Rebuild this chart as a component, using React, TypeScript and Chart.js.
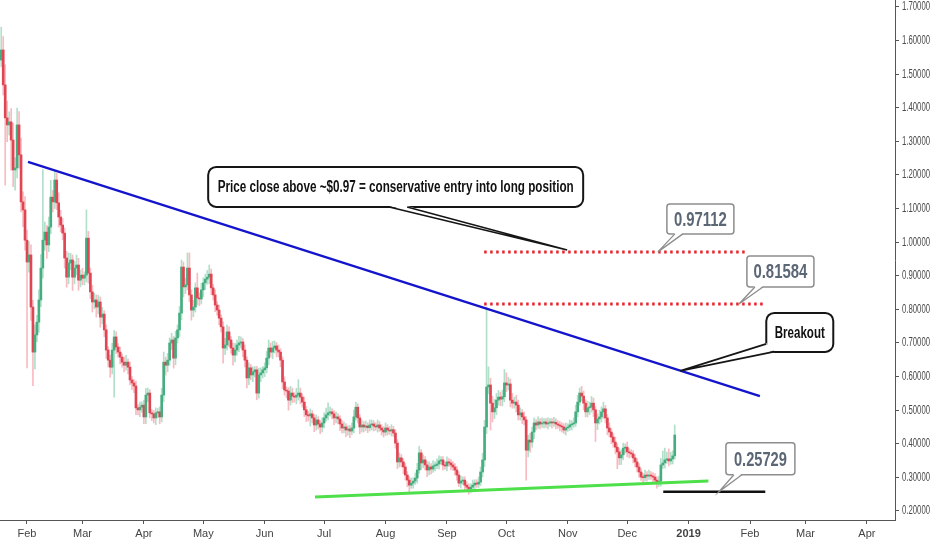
import { useEffect, useRef } from "react";
import { Chart, registerables, type Plugin } from "chart.js";

Chart.register(...registerables);

// day index 0 = 1 Feb 2018, one candle per day
const firstDay = -13;
const firstOpen = 1.542;

const closes: number[] = [
  1.572, 1.468, 1.370, 1.349, 1.358, 1.304, 1.215, 1.221, 1.349, 1.260,
  1.120, 1.096, 1.006, 0.941, 0.962, 0.807, 0.673, 0.724, 0.762, 0.828,
  0.923, 1.006, 1.030, 0.992, 1.045, 1.134, 1.120, 1.185, 1.117, 1.075,
  1.051, 1.027, 0.953, 0.896, 0.938, 0.947, 0.896, 0.923, 0.932, 0.887,
  0.902, 0.893, 0.902, 1.012, 0.908, 0.852, 0.822, 0.828, 0.807, 0.822,
  0.777, 0.786, 0.739, 0.679, 0.649, 0.628, 0.679, 0.718, 0.688, 0.673,
  0.658, 0.643, 0.634, 0.643, 0.628, 0.590, 0.581, 0.572, 0.507, 0.501,
  0.509, 0.515, 0.480, 0.545, 0.551, 0.492, 0.489, 0.477, 0.492, 0.495,
  0.480, 0.545, 0.643, 0.634, 0.649, 0.700, 0.709, 0.655, 0.715, 0.739,
  0.789, 0.926, 0.867, 0.873, 0.923, 0.843, 0.798, 0.807, 0.864, 0.834,
  0.831, 0.858, 0.879, 0.890, 0.896, 0.905, 0.864, 0.843, 0.813, 0.798,
  0.774, 0.748, 0.685, 0.694, 0.733, 0.709, 0.685, 0.664, 0.679, 0.694,
  0.700, 0.703, 0.679, 0.649, 0.596, 0.626, 0.605, 0.614, 0.620, 0.551,
  0.605, 0.611, 0.620, 0.626, 0.655, 0.685, 0.673, 0.685, 0.691, 0.679,
  0.673, 0.649, 0.584, 0.560, 0.557, 0.530, 0.551, 0.542, 0.539, 0.545,
  0.551, 0.539, 0.524, 0.501, 0.486, 0.483, 0.489, 0.477, 0.456, 0.471,
  0.459, 0.450, 0.462, 0.477, 0.486, 0.492, 0.495, 0.489, 0.477, 0.480,
  0.474, 0.459, 0.447, 0.450, 0.441, 0.444, 0.438, 0.447, 0.480, 0.509,
  0.477, 0.450, 0.456, 0.450, 0.453, 0.448, 0.456, 0.459, 0.453, 0.450,
  0.456, 0.447, 0.441, 0.435, 0.447, 0.441, 0.438, 0.442, 0.432, 0.402,
  0.346, 0.358, 0.346, 0.331, 0.307, 0.292, 0.277, 0.283, 0.289, 0.298,
  0.322, 0.373, 0.343, 0.352, 0.337, 0.322, 0.331, 0.325, 0.334, 0.336,
  0.340, 0.349, 0.352, 0.337, 0.334, 0.346, 0.343, 0.337, 0.331, 0.322,
  0.307, 0.283, 0.289, 0.292, 0.277, 0.271, 0.265, 0.271, 0.277, 0.283,
  0.280, 0.286, 0.316, 0.352, 0.450, 0.569, 0.575, 0.521, 0.495, 0.507,
  0.530, 0.539, 0.533, 0.540, 0.581, 0.575, 0.578, 0.530, 0.521, 0.524,
  0.515, 0.486, 0.492, 0.480, 0.471, 0.381, 0.411, 0.405, 0.435, 0.462,
  0.456, 0.465, 0.459, 0.462, 0.465, 0.459, 0.462, 0.465, 0.462, 0.464,
  0.459, 0.456, 0.453, 0.450, 0.441, 0.447, 0.450, 0.456, 0.459, 0.462,
  0.495, 0.524, 0.551, 0.542, 0.521, 0.495, 0.507, 0.509, 0.521, 0.501,
  0.462, 0.474, 0.480, 0.495, 0.504, 0.477, 0.447, 0.435, 0.420, 0.405,
  0.390, 0.376, 0.358, 0.367, 0.387, 0.390, 0.376, 0.373, 0.370, 0.358,
  0.346, 0.331, 0.316, 0.301, 0.299, 0.307, 0.304, 0.307, 0.304, 0.301,
  0.292, 0.283, 0.289, 0.337, 0.343, 0.352, 0.355, 0.349, 0.355, 0.364,
  0.426,
];

// wick length above the body / below the body
const wickUp: number[] = [
  0.068, 0.040, 0.060, 0.050, 0.030, 0.040, 0.050, 0.030, 0.050, 0.040,
  0.050, 0.030, 0.040, 0.030, 0.040, 0.030, 0.020, 0.030, 0.020, 0.030,
  0.040, 0.210, 0.030, 0.020, 0.030, 0.050, 0.020, 0.025, 0.020, 0.030,
  0.020, 0.020, 0.015, 0.020, 0.030, 0.020, 0.015, 0.020, 0.030, 0.020,
  0.015, 0.020, 0.010, 0.084, 0.020, 0.015, 0.020, 0.020, 0.015, 0.020,
  0.015, 0.020, 0.010, 0.015, 0.010, 0.015, 0.020, 0.020, 0.015, 0.010,
  0.015, 0.010, 0.015, 0.020, 0.010, 0.015, 0.010, 0.010, 0.015, 0.010,
  0.015, 0.010, 0.015, 0.020, 0.015, 0.010, 0.010, 0.010, 0.015, 0.010,
  0.015, 0.020, 0.030, 0.015, 0.020, 0.015, 0.020, 0.010, 0.020, 0.015,
  0.020, 0.021, 0.015, 0.020, 0.045, 0.045, 0.015, 0.020, 0.015, 0.044,
  0.015, 0.020, 0.015, 0.015, 0.020, 0.027, 0.015, 0.010, 0.015, 0.010,
  0.015, 0.010, 0.015, 0.020, 0.020, 0.015, 0.010, 0.015, 0.020, 0.015,
  0.020, 0.015, 0.010, 0.015, 0.010, 0.015, 0.010, 0.015, 0.010, 0.010,
  0.020, 0.015, 0.010, 0.015, 0.020, 0.024, 0.015, 0.020, 0.015, 0.010,
  0.015, 0.010, 0.010, 0.015, 0.010, 0.010, 0.020, 0.015, 0.010, 0.020,
  0.040, 0.015, 0.010, 0.015, 0.010, 0.010, 0.015, 0.010, 0.010, 0.015,
  0.010, 0.010, 0.015, 0.015, 0.020, 0.030, 0.015, 0.010, 0.010, 0.015,
  0.010, 0.010, 0.010, 0.015, 0.010, 0.010, 0.010, 0.015, 0.020, 0.015,
  0.010, 0.010, 0.015, 0.010, 0.015, 0.010, 0.015, 0.012, 0.010, 0.010,
  0.015, 0.010, 0.010, 0.010, 0.015, 0.010, 0.010, 0.015, 0.010, 0.010,
  0.010, 0.015, 0.010, 0.010, 0.010, 0.010, 0.010, 0.015, 0.010, 0.015,
  0.020, 0.020, 0.010, 0.015, 0.010, 0.010, 0.015, 0.010, 0.015, 0.010,
  0.015, 0.015, 0.010, 0.010, 0.010, 0.015, 0.010, 0.010, 0.010, 0.010,
  0.010, 0.010, 0.015, 0.010, 0.010, 0.010, 0.010, 0.010, 0.015, 0.010,
  0.010, 0.015, 0.015, 0.020, 0.020, 0.238, 0.054, 0.020, 0.020, 0.025,
  0.020, 0.020, 0.015, 0.020, 0.040, 0.030, 0.020, 0.015, 0.020, 0.015,
  0.020, 0.015, 0.015, 0.010, 0.015, 0.010, 0.015, 0.020, 0.015, 0.015,
  0.010, 0.015, 0.010, 0.015, 0.010, 0.010, 0.015, 0.010, 0.010, 0.015,
  0.010, 0.010, 0.010, 0.010, 0.010, 0.015, 0.010, 0.015, 0.010, 0.015,
  0.020, 0.020, 0.015, 0.020, 0.015, 0.010, 0.020, 0.015, 0.020, 0.015,
  0.010, 0.015, 0.020, 0.015, 0.020, 0.010, 0.010, 0.015, 0.010, 0.010,
  0.015, 0.010, 0.010, 0.015, 0.015, 0.010, 0.015, 0.010, 0.010, 0.010,
  0.010, 0.010, 0.010, 0.010, 0.010, 0.015, 0.010, 0.015, 0.010, 0.010,
  0.010, 0.010, 0.015, 0.020, 0.035, 0.035, 0.020, 0.030, 0.020, 0.015,
  0.030,
];

const wickDown: number[] = [
  0.020, 0.030, 0.200, 0.050, 0.030, 0.090, 0.050, 0.060, 0.030, 0.040,
  0.030, 0.050, 0.030, 0.315, 0.030, 0.040, 0.100, 0.050, 0.020, 0.030,
  0.020, 0.030, 0.030, 0.040, 0.020, 0.020, 0.030, 0.020, 0.020, 0.030,
  0.020, 0.020, 0.030, 0.030, 0.020, 0.020, 0.040, 0.020, 0.020, 0.030,
  0.020, 0.020, 0.020, 0.020, 0.030, 0.020, 0.030, 0.020, 0.030, 0.020,
  0.030, 0.020, 0.020, 0.025, 0.020, 0.030, 0.020, 0.140, 0.020, 0.015,
  0.020, 0.015, 0.020, 0.015, 0.020, 0.015, 0.020, 0.020, 0.020, 0.015,
  0.020, 0.015, 0.020, 0.020, 0.020, 0.015, 0.020, 0.015, 0.020, 0.015,
  0.020, 0.015, 0.020, 0.030, 0.020, 0.015, 0.020, 0.030, 0.020, 0.015,
  0.020, 0.020, 0.030, 0.020, 0.015, 0.020, 0.030, 0.020, 0.015, 0.020,
  0.020, 0.015, 0.020, 0.020, 0.015, 0.020, 0.020, 0.015, 0.020, 0.015,
  0.020, 0.015, 0.045, 0.020, 0.015, 0.020, 0.015, 0.030, 0.020, 0.015,
  0.020, 0.015, 0.020, 0.020, 0.030, 0.020, 0.015, 0.020, 0.015, 0.020,
  0.015, 0.020, 0.015, 0.020, 0.015, 0.020, 0.015, 0.020, 0.015, 0.020,
  0.015, 0.020, 0.020, 0.015, 0.020, 0.030, 0.015, 0.020, 0.015, 0.020,
  0.015, 0.020, 0.015, 0.020, 0.020, 0.015, 0.030, 0.015, 0.020, 0.015,
  0.015, 0.020, 0.015, 0.015, 0.010, 0.015, 0.010, 0.015, 0.020, 0.015,
  0.015, 0.020, 0.015, 0.015, 0.020, 0.015, 0.020, 0.010, 0.015, 0.010,
  0.015, 0.020, 0.015, 0.015, 0.010, 0.015, 0.010, 0.015, 0.015, 0.010,
  0.015, 0.010, 0.015, 0.015, 0.010, 0.015, 0.010, 0.015, 0.010, 0.015,
  0.020, 0.015, 0.015, 0.020, 0.015, 0.020, 0.020, 0.010, 0.015, 0.010,
  0.015, 0.010, 0.020, 0.015, 0.015, 0.020, 0.015, 0.015, 0.010, 0.015,
  0.010, 0.015, 0.010, 0.015, 0.010, 0.015, 0.010, 0.015, 0.010, 0.015,
  0.015, 0.010, 0.015, 0.010, 0.015, 0.010, 0.015, 0.010, 0.010, 0.015,
  0.010, 0.010, 0.010, 0.015, 0.020, 0.020, 0.020, 0.080, 0.030, 0.020,
  0.020, 0.015, 0.020, 0.020, 0.015, 0.020, 0.015, 0.020, 0.015, 0.015,
  0.020, 0.015, 0.015, 0.020, 0.015, 0.089, 0.020, 0.030, 0.015, 0.020,
  0.015, 0.010, 0.015, 0.010, 0.015, 0.010, 0.015, 0.010, 0.015, 0.010,
  0.015, 0.010, 0.015, 0.015, 0.010, 0.015, 0.010, 0.010, 0.015, 0.010,
  0.010, 0.015, 0.010, 0.015, 0.020, 0.015, 0.015, 0.020, 0.015, 0.020,
  0.055, 0.020, 0.015, 0.015, 0.020, 0.015, 0.020, 0.015, 0.020, 0.015,
  0.020, 0.050, 0.020, 0.020, 0.015, 0.015, 0.015, 0.015, 0.010, 0.015,
  0.015, 0.015, 0.015, 0.010, 0.015, 0.010, 0.015, 0.010, 0.010, 0.015,
  0.010, 0.015, 0.010, 0.015, 0.010, 0.015, 0.010, 0.015, 0.010, 0.015,
  0.010,
];

// month ticks (day index) and their labels
const monthDays = [0, 28, 59, 89, 120, 150, 181, 212, 242, 273, 303, 334, 365, 393, 424];
const monthLabels = ["Feb", "Mar", "Apr", "May", "Jun", "Jul", "Aug", "Sep", "Oct", "Nov", "Dec", "2019", "Feb", "Mar", "Apr"];
const priceTicks = [0.2, 0.3, 0.4, 0.5, 0.6, 0.7, 0.8, 0.9, 1.0, 1.1, 1.2, 1.3, 1.4, 1.5, 1.6, 1.7];

// drawn lines: [day, price] end points
const trendLine = [[0.5, 1.239], [370, 0.542]];
const supportLine = [[145.4, 0.242], [344, 0.289]];
const targetHigh = [[230.8, 0.97112], [363.6, 0.97112]];
const targetLow = [[230.8, 0.81584], [372.7, 0.81584]];
const supportLevel = [[321.2, 0.25729], [372.7, 0.25729]];

const X_MIN = -13.63;
const X_MAX = 438.2;
const Y_MIN = 0.1732;
const Y_MAX = 1.7208;

const UP = "#45ad7f";
const DOWN = "#e04553";
const UP_WICK = "rgba(83,185,135,0.45)";
const DOWN_WICK = "rgba(235,77,92,0.38)";
const SANS = "'Liberation Sans', Arial, sans-serif";

type Callout = {
  text: string;
  tip: [number, number];
  box: [number, number, number, number];
  base: [[number, number], [number, number]];
  note: boolean;
  textWidth: number;
  size: number;
};

const callouts: Callout[] = [
  { text: "Price close above ~$0.97 = conservative entry into long position", tip: [272.7, 0.977], box: [-359, -83, 375, 40], base: [[-178, -43], [-160, -43]], note: true, textWidth: 356, size: 16 },
  { text: "Breakout", tip: [329.8, 0.617], box: [86, -58, 67, 39], base: [[86, -27], [93, -19]], note: true, textWidth: 50, size: 16 },
  { text: "0.97112", tip: [318.5, 0.97112], box: [9, -48, 67, 30], base: [[17, -18], [25, -18]], note: false, textWidth: 53, size: 21 },
  { text: "0.81584", tip: [359.4, 0.81584], box: [8, -48, 67, 31], base: [[16, -17], [24, -17]], note: false, textWidth: 54, size: 21 },
  { text: "0.25729", tip: [349.3, 0.25729], box: [7, -49, 69, 32], base: [[15, -17], [23, -17]], note: false, textWidth: 53, size: 21 },
];

// text drawn at a given width (the picture uses a condensed face)
const fitText = (ctx: CanvasRenderingContext2D, text: string, x: number, y: number, width: number, align: "left" | "center") => {
  const w = ctx.measureText(text).width;
  ctx.save();
  ctx.translate(x, y);
  ctx.scale(width / w, 1);
  ctx.textAlign = align;
  ctx.fillText(text, 0, 0);
  ctx.restore();
};

const calloutPlugin: Plugin<"bar"> = {
  id: "callouts",
  afterDatasetsDraw(chart) {
    const { ctx } = chart;
    const xs = chart.scales.x;
    const ys = chart.scales.y;
    ctx.save();
    for (const co of callouts) {
      const tx = xs.getPixelForValue(co.tip[0]);
      const ty = ys.getPixelForValue(co.tip[1]);
      const [bx, by, bw, bh] = co.box;
      const left = tx + bx;
      const top = ty + by;
      const stroke = co.note ? "#151515" : "#8d8d8d";

      ctx.beginPath();
      ctx.roundRect(left, top, bw, bh, co.note ? 8 : 3);
      ctx.fillStyle = "#ffffff";
      ctx.fill();
      ctx.lineWidth = co.note ? 2 : 1.5;
      ctx.strokeStyle = stroke;
      ctx.stroke();

      // pointer wedge
      const [p1, p2] = co.base;
      ctx.beginPath();
      ctx.moveTo(tx + p1[0], ty + p1[1] - 1);
      ctx.lineTo(tx, ty);
      ctx.lineTo(tx + p2[0], ty + p2[1] - 1);
      ctx.closePath();
      ctx.fillStyle = "#ffffff";
      ctx.fill();
      ctx.beginPath();
      ctx.moveTo(tx + p1[0], ty + p1[1]);
      ctx.lineTo(tx, ty);
      ctx.lineTo(tx + p2[0], ty + p2[1]);
      ctx.lineWidth = co.note ? 1.6 : 1.3;
      ctx.stroke();

      ctx.font = `bold ${co.size}px ${SANS}`;
      ctx.fillStyle = co.note ? "#111111" : "#5c6776";
      ctx.textBaseline = "middle";
      fitText(ctx, co.text, left + bw / 2, top + bh / 2 + 1, co.textWidth, "center");
    }
    ctx.restore();
  },
};

// price labels of the right axis, in the narrow face of the picture
const priceLabelPlugin: Plugin<"bar"> = {
  id: "priceLabels",
  afterDraw(chart) {
    const { ctx } = chart;
    const ys = chart.scales.y;
    ctx.save();
    ctx.font = `12px ${SANS}`;
    ctx.fillStyle = "#4a4a4a";
    ctx.textBaseline = "middle";
    for (const v of priceTicks) {
      const y = ys.getPixelForValue(v);
      fitText(ctx, v.toFixed(5), ys.left + 7, y, 28, "left");
    }
    ctx.restore();
  },
};

const lineSet = (pts: number[][], color: string, width: number, dash: number[] = []) => ({
  type: "line" as const,
  data: pts.map(([x, y]) => ({ x, y })),
  borderColor: color,
  borderWidth: width,
  borderDash: dash,
  borderCapStyle: "butt" as const,
  pointRadius: 0,
  tension: 0,
  order: 0,
});

export default function App() {
  const ref = useRef<HTMLCanvasElement | null>(null);

  useEffect(() => {
    document.body.style.margin = "0";
    document.body.style.background = "#ffffff";
    if (!ref.current) return;

    const opens = closes.map((c, i) => (i === 0 ? firstOpen : closes[i - 1]));
    const bodies = closes.map((c, i) => ({ x: firstDay + i, y: [opens[i], c] }));
    const wicks = closes.map((c, i) => ({
      x: firstDay + i,
      y: [Math.min(opens[i], c) - wickDown[i], Math.max(opens[i], c) + wickUp[i]],
    }));
    const bodyColors = closes.map((c, i) => (c >= opens[i] ? UP : DOWN));
    const wickColors = closes.map((c, i) => (c >= opens[i] ? UP_WICK : DOWN_WICK));

    const axisColor = "#555555";

    const chart = new Chart(ref.current, {
      type: "bar",
      data: {
        datasets: [
          lineSet(trendLine, "#1414cc", 2.2),
          lineSet(supportLine, "#4ee04a", 3),
          lineSet(targetHigh, "#e8242a", 3, [2.5, 3.5]),
          lineSet(targetLow, "#e8242a", 3, [2.5, 3.5]),
          lineSet(supportLevel, "#111111", 2.5),
          {
            type: "bar",
            data: bodies,
            backgroundColor: bodyColors,
            borderWidth: 0,
            barThickness: 2,
            minBarLength: 1,
            grouped: false,
            order: 1,
          },
          {
            type: "bar",
            data: wicks,
            backgroundColor: wickColors,
            borderWidth: 0,
            barThickness: 1,
            grouped: false,
            order: 2,
          },
        ] as any,
      },
      options: {
        animation: false,
        responsive: false,
        events: [],
        layout: { padding: 0 },
        plugins: {
          legend: { display: false },
          tooltip: { enabled: false },
        },
        scales: {
          x: {
            type: "linear",
            min: X_MIN,
            max: X_MAX,
            offset: false,
            grid: { display: true, offset: false, drawOnChartArea: false, tickLength: 4, color: axisColor },
            border: { display: true, color: axisColor, width: 1 },
            afterBuildTicks: (s: any) => {
              s.ticks = monthDays.map((v) => ({ value: v }));
            },
            afterFit: (s: any) => {
              s.height = 30;
              s.paddingLeft = 0;
              s.paddingRight = 0;
            },
            ticks: {
              autoSkip: false,
              maxRotation: 0,
              padding: 3,
              color: "#444444",
              font: (c: any) => ({
                family: SANS,
                size: 11,
                weight: c.tick && c.tick.value === 334 ? "bold" : "normal",
              }),
              callback: (_v: any, i: number) => monthLabels[i],
            },
          },
          y: {
            type: "linear",
            position: "right",
            min: Y_MIN,
            max: Y_MAX,
            grid: { display: true, drawOnChartArea: false, tickLength: 4, color: axisColor },
            border: { display: true, color: axisColor, width: 1 },
            afterBuildTicks: (s: any) => {
              s.ticks = priceTicks.map((v) => ({ value: v }));
            },
            afterFit: (s: any) => {
              s.width = 37;
              s.paddingTop = 0;
              s.paddingBottom = 0;
            },
            ticks: { display: false },
          },
        },
      },
      plugins: [calloutPlugin, priceLabelPlugin],
    });

    return () => chart.destroy();
  }, []);

  return (
    <div style={{ width: 932, height: 550 }}>
      <canvas ref={ref} width={932} height={550} />
    </div>
  );
}
